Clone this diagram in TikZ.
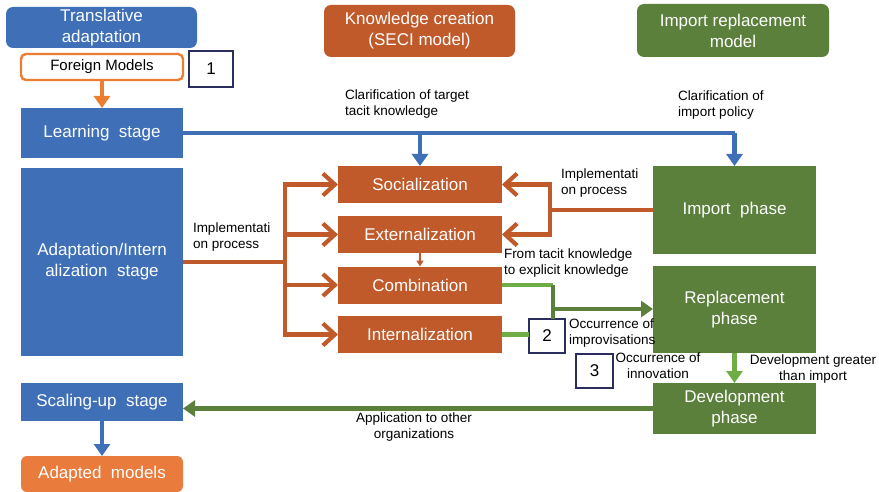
\documentclass[tikz,border=0pt]{standalone}
\usepackage{fontspec}
\setmainfont{Liberation Sans}
\usetikzlibrary{arrows.meta}
\definecolor{cblue}{HTML}{3E6FB7}
\definecolor{corange}{HTML}{C05A2B}
\definecolor{clorange}{HTML}{E97B3C}
\definecolor{cforange}{HTML}{ED7D31}
\definecolor{cgreen}{HTML}{5A803B}
\definecolor{clgreen}{HTML}{70AD47}
\definecolor{cnavy}{HTML}{2B2D5C}
\tikzset{
  box/.style={rectangle, inner sep=0pt, outer sep=0pt, text=white, align=center,
    font=\fontsize{17}{21}\selectfont},
  bluebox/.style={box, fill=cblue},
  orabox/.style={box, fill=corange},
  grnbox/.style={box, fill=cgreen},
  hdr/.style={box, rounded corners=7pt},
  numbox/.style={rectangle, inner sep=0pt, outer sep=0pt, draw=cnavy, line width=2.6pt,
    fill=white, font=\fontsize{17}{20}\selectfont},
  lbl/.style={inner sep=0pt, outer sep=0pt, align=left, font=\fontsize{13.5}{16}\selectfont},
  lblc/.style={lbl, align=center},
  bline/.style={draw=cblue, line width=4.2pt},
  barrow/.style={bline, -{Triangle[length=12pt,width=16pt]}},
  oline/.style={draw=corange, line width=4.2pt},
  ofan/.style={oline, -{Straight Barb[length=12pt,width=22pt]}},
  oarrow/.style={draw=cforange, line width=4.2pt, -{Triangle[length=12pt,width=16pt]}},
  osmall/.style={draw=corange, line width=1.8pt, -{Triangle[length=6pt,width=7pt]}},
  gline/.style={draw=cgreen, line width=4.2pt},
  lgline/.style={draw=clgreen, line width=4.2pt},
  garrow/.style={gline, -{Triangle[length=12pt,width=16pt]}},
  lgarrow/.style={lgline, -{Triangle[length=12pt,width=16pt]}},
}
\begin{document}
\begin{tikzpicture}[x=1pt, y=-1pt]
\useasboundingbox (0,0) rectangle (879,492);
% headers
\node[hdr, fill=cblue, minimum width=191pt, minimum height=41pt] (trans) at (101.5,27.5) {Translative\\adaptation};
\node[hdr, fill=corange, minimum width=191pt, minimum height=52pt] (know) at (419.5,31) {Knowledge creation\\(SECI model)};
\node[hdr, fill=cgreen, minimum width=192pt, minimum height=53pt] (impr) at (733,30.5) {Import replacement\\model};
% left column
\node[rectangle, rounded corners=5pt, draw=cforange, line width=2.4pt, fill=white, inner sep=0pt, outer sep=0pt,
  minimum width=162pt, minimum height=26pt, font=\fontsize{15}{18}\selectfont] (foreign) at (102,67) {Foreign Models};
\node[numbox, minimum width=44pt, minimum height=36pt] (one) at (211,69) {1};
\node[bluebox, minimum width=162pt, minimum height=50pt] (learn) at (102,133) {Learning\ \ stage};
\node[bluebox, minimum width=162pt, minimum height=188pt] (adapt) at (102,262) {Adaptation/Intern\\alization\ \ stage};
\node[bluebox, minimum width=162pt, minimum height=38pt] (scale) at (102,402) {Scaling-up\ \ stage};
\node[box, fill=clorange, rounded corners=6pt, minimum width=162pt, minimum height=36pt] (adapted) at (102,474) {Adapted\ \ models};
% SECI
\node[orabox, minimum width=164pt, minimum height=37pt] (soc) at (420,184.5) {Socialization};
\node[orabox, minimum width=164pt, minimum height=37pt] (ext) at (420,234.5) {Externalization};
\node[orabox, minimum width=164pt, minimum height=37pt] (comb) at (420,285) {Combination};
\node[orabox, minimum width=164pt, minimum height=37pt] (int) at (420,334.5) {Internalization};
% import replacement
\node[grnbox, minimum width=163pt, minimum height=88pt] (imp) at (734.5,210) {Import\ \ phase};
\node[grnbox, minimum width=163pt, minimum height=87pt] (rep) at (734.5,309.5) {Replacement\\phase};
\node[grnbox, minimum width=163pt, minimum height=51pt] (dev) at (734.5,408.5) {Development\\phase};
% number boxes
\node[numbox, minimum width=36pt, minimum height=34pt] (two) at (547,336) {2};
\node[numbox, minimum width=37pt, minimum height=34pt] (three) at (594.5,371) {3};
% labels
\node[lbl, anchor=west] (l1) at (345,104) {Clarification of target\\tacit knowledge};
\node[lbl, anchor=west] (l2) at (678,105) {Clarification of\\import policy};
\node[lbl, anchor=west] (l3) at (193,237) {Implementati\\on process};
\node[lbl, anchor=west] (l4) at (561,183) {Implementati\\on process};
\node[lbl, anchor=west] (l5) at (504,263) {From tacit knowledge\\to explicit knowledge};
\node[lbl, anchor=west] (l6) at (569,333) {Occurrence of\\improvisations};
\node[lblc] (l7) at (658,366) {Occurrence of\\innovation};
\node[lblc] (l8) at (813,369) {Development greater\\than import};
\node[lblc] (l9) at (414,427) {Application to other\\organizations};
% connectors
\coordinate (fan) at (285,262);
\coordinate (rfan) at (550,210);
\coordinate (gj) at (553,309);
\draw[oarrow] (foreign.south) -- (learn.north);
\draw[barrow] (scale.south) -- (adapted.north);
\draw[bline] (learn.east) -- (learn.east -| imp.north);
\draw[barrow] (learn.east -| imp.north) -- (imp.north);
\draw[barrow] (learn.east -| soc.north) -- (soc.north);
\draw[oline] (adapt.east) -- (fan);
\draw[oline, line cap=rect] (fan |- soc.west) -- (fan |- int.west);
\draw[ofan] (fan |- soc.west) -- (soc.west);
\draw[ofan] (fan |- ext.west) -- (ext.west);
\draw[ofan] (fan |- comb.west) -- (comb.west);
\draw[ofan] (fan |- int.west) -- (int.west);
\draw[oline] (imp.west) -- (rfan);
\draw[oline, line cap=rect] (rfan |- soc.east) -- (rfan |- ext.east);
\draw[ofan] (rfan |- soc.east) -- (soc.east);
\draw[ofan] (rfan |- ext.east) -- (ext.east);
\draw[osmall] (ext.south) -- (comb.north);
\draw[lgline] (comb.east) -- (comb.east -| gj);
\draw[gline] (comb.east -| gj) -- (gj |- two.north);
\draw[garrow] (gj) -- (gj -| rep.west);
\draw[lgline] (int.east) -- (int.east -| two.west);
\draw[lgarrow] (rep.south) -- (dev.north);
\draw[garrow] (dev.west) -- (dev.west -| scale.east);
\end{tikzpicture}
\end{document}
